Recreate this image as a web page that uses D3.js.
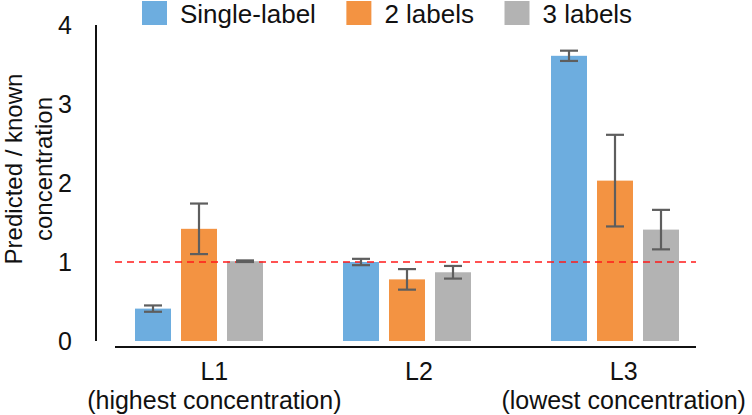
<!DOCTYPE html>
<html>
<head>
<meta charset="utf-8">
<script src="https://cdn.jsdelivr.net/npm/d3@7/dist/d3.min.js"></script>
<style>
  html, body { margin: 0; padding: 0; background: #fff; }
  svg { display: block; font-family: "Liberation Sans", Arial, sans-serif; }
</style>
</head>
<body>
<svg id="chart" width="752" height="415"></svg>
<script>
// ---- data ----
const categories = ["L1", "L2", "L3"];
const categorySubtitles = ["(highest concentration)", "", "(lowest concentration)"];
const seriesNames = ["Single-label", "2 labels", "3 labels"];
const singleLabel = [0.41, 1.00, 3.61];
const singleLabelErr = [0.04, 0.04, 0.065];
const twoLabels = [1.42, 0.78, 2.03];
const twoLabelsErr = [0.32, 0.13, 0.58];
const threeLabels = [1.01, 0.87, 1.41];
const threeLabelsErr = [0.01, 0.08, 0.25];
const yTicks = [0, 1, 2, 3, 4];
const referenceValue = 1;
const yTitleLines = ["Predicted / known", "concentration"];

// ---- build table ----
const seriesValues = [singleLabel, twoLabels, threeLabels];
const seriesErrs = [singleLabelErr, twoLabelsErr, threeLabelsErr];
const colors = ["#6DADDF", "#F39342", "#B3B3B3"];
const rows = [];
categories.forEach((c, ci) => {
  seriesNames.forEach((s, si) => {
    rows.push({ cat: c, series: s, value: seriesValues[si][ci], err: seriesErrs[si][ci], si });
  });
});

const svg = d3.select("#chart");

const x0 = d3.scaleBand().domain(categories).range([95, 719]).padding(0);
const x1 = d3.scaleBand().domain(seriesNames).range([0, 128]).paddingInner(10 / 46).paddingOuter(0);
const xLabel = d3.scaleBand().domain(categories).range([112, 726]);
const y = d3.scaleLinear().domain([0, 4]).range([341, 25]);

// y axis line
svg.append("line")
  .attr("x1", 96).attr("x2", 96)
  .attr("y1", y(4)).attr("y2", y(0))
  .attr("stroke", "#111").attr("stroke-width", 2);

// y tick labels
svg.append("g").selectAll("text").data(yTicks).join("text")
  .attr("x", 72).attr("y", d => y(d) + 9)
  .attr("text-anchor", "end")
  .attr("font-size", 25).attr("fill", "#111")
  .text(d => d3.format("d")(d));

// y title (one text, two lines)
const yt = svg.append("text")
  .attr("transform", "translate(22,169) rotate(-90)")
  .attr("text-anchor", "middle")
  .attr("font-size", 24).attr("fill", "#111");
yTitleLines.forEach((t, i) => {
  yt.append("tspan").attr("x", 0).attr("y", i * 30).text(t);
});

// bars
const groupW = x1.range()[1];
const gx = c => x0(c) + x0.bandwidth() / 2 - groupW / 2;
svg.append("g").selectAll("rect").data(rows).join("rect")
  .attr("x", d => gx(d.cat) + x1(d.series))
  .attr("width", x1.bandwidth())
  .attr("y", d => y(d.value))
  .attr("height", d => y(0) - y(d.value))
  .attr("fill", d => colors[d.si]);

// x axis line
svg.append("line")
  .attr("x1", 115).attr("x2", 696)
  .attr("y1", 347).attr("y2", 347)
  .attr("stroke", "#111").attr("stroke-width", 2);

// reference dashed line
svg.append("line")
  .attr("x1", 115).attr("x2", 696)
  .attr("y1", y(referenceValue)).attr("y2", y(referenceValue))
  .attr("stroke", "#FF1A1A").attr("stroke-width", 1.6)
  .attr("stroke-dasharray", "7,5");

// error bars
const eb = svg.append("g").attr("stroke", "#5E5E5E").attr("stroke-width", 2.2);
rows.forEach(d => {
  const cx = gx(d.cat) + x1(d.series) + x1.bandwidth() / 2;
  const yt = y(d.value + d.err), yb = y(d.value - d.err);
  eb.append("line").attr("x1", cx).attr("x2", cx).attr("y1", yt).attr("y2", yb);
  eb.append("line").attr("x1", cx - 9).attr("x2", cx + 9).attr("y1", yt).attr("y2", yt);
  eb.append("line").attr("x1", cx - 9).attr("x2", cx + 9).attr("y1", yb).attr("y2", yb);
});

// category labels
const cl = svg.append("g").attr("font-size", 25).attr("fill", "#111").attr("text-anchor", "middle");
categories.forEach((c, i) => {
  const cx = xLabel(c) + xLabel.bandwidth() / 2;
  cl.append("text").attr("x", cx).attr("y", 380).text(c);
  if (categorySubtitles[i]) cl.append("text").attr("x", cx).attr("y", 408.5).text(categorySubtitles[i]);
});

// legend
const lg = svg.append("g");
let lx = 142;
seriesNames.forEach((s, i) => {
  lg.append("rect").attr("x", lx).attr("y", 1).attr("width", 25).attr("height", 24).attr("fill", colors[i]);
  const t = lg.append("text").attr("x", lx + 38).attr("y", 23)
    .attr("font-size", 26).attr("fill", "#111").text(s);
  lx += 38 + t.node().getComputedTextLength() + 30.5;
});
</script>
</body>
</html>
